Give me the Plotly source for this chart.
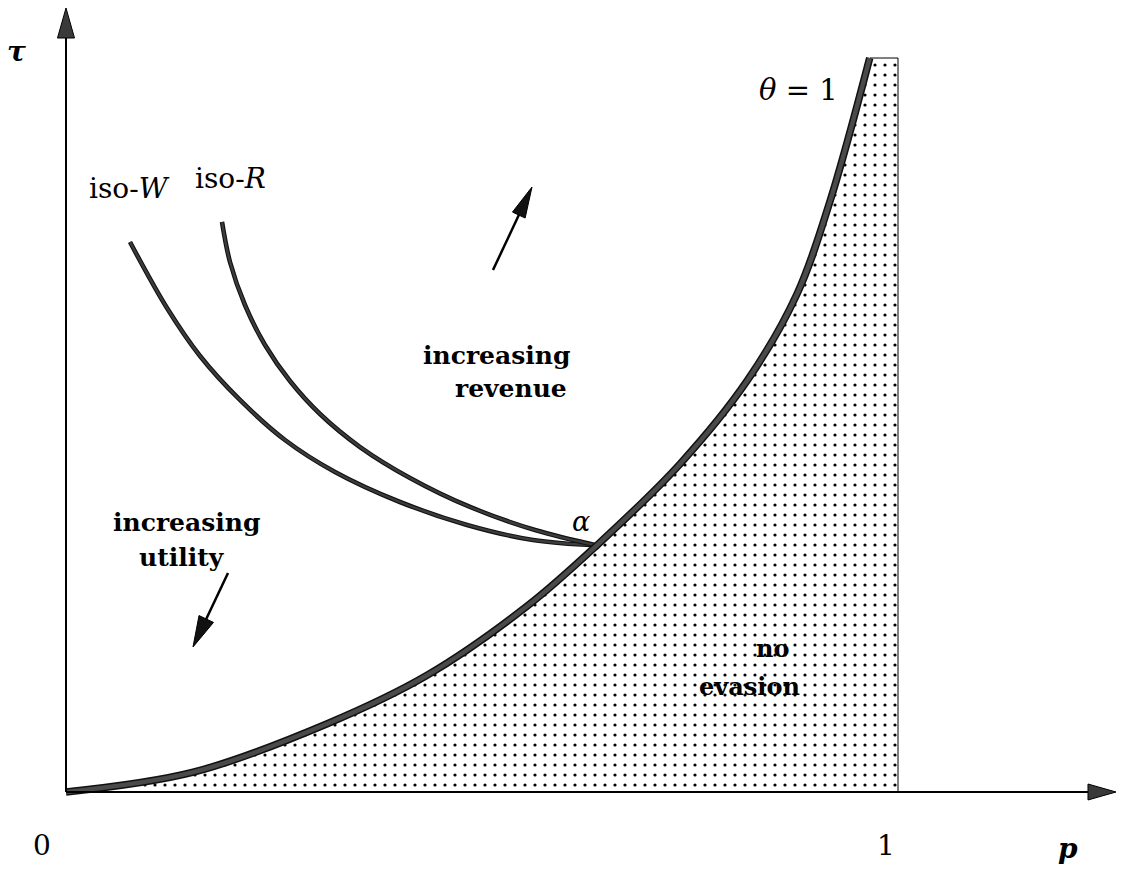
import math
import plotly.graph_objects as go

W, H = 1129, 894
# pixel positions of p=0, p=1 and tau=0, tau=1
PX0, PX1 = 66, 898
PY0, PY1 = 792, 58

# theta = 1 boundary curve
theta_p = [0.0, 0.153, 0.314, 0.434, 0.554, 0.638, 0.738, 0.8185, 0.8786, 0.9183, 0.966]
theta_tau = [0.0, 0.027, 0.093, 0.159, 0.253, 0.336, 0.447, 0.560, 0.6785, 0.805, 1.0]

# iso-W curve
isoW_p = [0.0769, 0.1214, 0.1611, 0.2091, 0.2632, 0.3233, 0.4014, 0.4820, 0.5613, 0.638]
isoW_tau = [0.7493, 0.6594, 0.5940, 0.5341, 0.4796, 0.4360, 0.3951, 0.3638, 0.3433, 0.336]

# iso-R curve
isoR_p = [0.1875, 0.1971, 0.2151, 0.2392, 0.2692, 0.3053, 0.3534, 0.4135, 0.4856, 0.5637, 0.638]
isoR_tau = [0.7766, 0.7221, 0.6635, 0.6090, 0.5599, 0.5150, 0.4700, 0.4278, 0.3883, 0.3569, 0.336]

sx = PX1 - PX0
sy = PY0 - PY1
xrange_ = [(0 - PX0) / sx, (W - PX0) / sx]
yrange_ = [(PY0 - H) / sy, PY0 / sy]


def paper(px, py):
    return px / W, 1 - py / H


def arrow_path(tip, tail, length, width):
    tx, ty = tip
    bx, by = tail
    d = math.hypot(tx - bx, ty - by)
    ux, uy = (tx - bx) / d, (ty - by) / d
    cx, cy = tx - ux * length, ty - uy * length
    nx, ny = -uy, ux
    pts = [(tx, ty), (cx + nx * width / 2, cy + ny * width / 2), (cx - nx * width / 2, cy - ny * width / 2)]
    pts = [paper(*p) for p in pts]
    head = "M {:.5f} {:.5f} L {:.5f} {:.5f} L {:.5f} {:.5f} Z".format(*[v for p in pts for v in p])
    a = paper(bx, by)
    b = paper(cx + ux * 2, cy + uy * 2)
    line = dict(x0=a[0], y0=a[1], x1=b[0], y1=b[1])
    return head, line


fig = go.Figure()

# curve (base for the fill)
fig.add_trace(go.Scatter(x=theta_p, y=theta_tau, mode="lines",
                         line=dict(shape="spline", color="rgba(0,0,0,0)", width=0),
                         hoverinfo="skip", showlegend=False))
# no-evasion region
fig.add_trace(go.Scatter(x=[1.0, 1.0, theta_p[-1]], y=[0.0, theta_tau[-1], theta_tau[-1]],
                         mode="lines", line=dict(color="black", width=1),
                         fill="tonextx", fillcolor="white",
                         fillpattern=dict(shape=".", size=10, solidity=0.08,
                                          fgcolor="black", bgcolor="white", fillmode="replace"),
                         hoverinfo="skip", showlegend=False))

# iso curves
for px_, pt_ in [(isoW_p, isoW_tau), (isoR_p, isoR_tau)]:
    fig.add_trace(go.Scatter(x=px_, y=pt_, mode="lines",
                             line=dict(shape="spline", color="#111111", width=4.6),
                             hoverinfo="skip", showlegend=False))
    fig.add_trace(go.Scatter(x=px_, y=pt_, mode="lines",
                             line=dict(shape="spline", color="#3c3c3c", width=2.4),
                             hoverinfo="skip", showlegend=False))

# theta = 1 curve
fig.add_trace(go.Scatter(x=theta_p, y=theta_tau, mode="lines",
                         line=dict(shape="spline", color="#111111", width=7.5),
                         hoverinfo="skip", showlegend=False))
fig.add_trace(go.Scatter(x=theta_p, y=theta_tau, mode="lines",
                         line=dict(shape="spline", color="#4a4a4a", width=4.5),
                         hoverinfo="skip", showlegend=False))

shapes = []
# axes with arrowheads, and the two direction arrows
for tip, tail, L, Wd, lw, fillc in [
    ((66, 8), (66, 792), 30, 17, 2, "#3a3a3a"),
    ((1116, 792), (66, 792), 28, 16, 2, "#3a3a3a"),
    ((532, 187), (493, 270), 31, 14, 2.5, "#111111"),
    ((193, 647), (228, 573), 31, 16, 2.5, "#111111"),
]:
    head, ln = arrow_path(tip, tail, L, Wd)
    shapes.append(dict(type="line", xref="paper", yref="paper", line=dict(color="black", width=lw), **ln))
    shapes.append(dict(type="path", xref="paper", yref="paper", path=head,
                       fillcolor=fillc, line=dict(color="black", width=1)))

FONT = "DejaVu Serif"
labels = [
    ("increasing", 496, 355, 25, "bold"),
    ("revenue", 511, 388, 25, "bold"),
    ("increasing", 186, 522, 25, "bold"),
    ("utility", 182, 557, 25, "bold"),
    ("iso-<i>W</i>", 129, 189, 28, "normal"),
    ("iso-<i>R</i>", 230, 178, 28, "normal"),
    ("<i>θ</i> = 1", 798, 90, 29, "normal"),
    ("<i>α</i>", 581, 521, 27, "normal"),
    ("no", 772, 648, 24, "bold"),
    ("evasion", 749, 686, 24, "bold"),
    ("<i>τ</i>", 16, 52, 28, "bold"),
    ("0", 42, 845, 28, "normal"),
    ("1", 886, 845, 28, "normal"),
    ("<i>p</i>", 1068, 848, 28, "bold"),
]
annotations = []
for txt, px, py, size, weight in labels:
    x, y = paper(px, py)
    annotations.append(dict(text=txt, x=x, y=y, xref="paper", yref="paper",
                            xanchor="center", yanchor="middle", showarrow=False,
                            font=dict(family=FONT, size=size, color="black", weight=weight)))

fig.update_layout(
    width=W, height=H, autosize=False,
    margin=dict(l=0, r=0, t=0, b=0, pad=0),
    paper_bgcolor="white", plot_bgcolor="white",
    xaxis=dict(range=xrange_, visible=False, fixedrange=True),
    yaxis=dict(range=yrange_, visible=False, fixedrange=True),
    shapes=shapes, annotations=annotations, showlegend=False,
)

fig.write_html("out.html", config={"displayModeBar": False},
               post_script="document.body.style.margin='0';")
